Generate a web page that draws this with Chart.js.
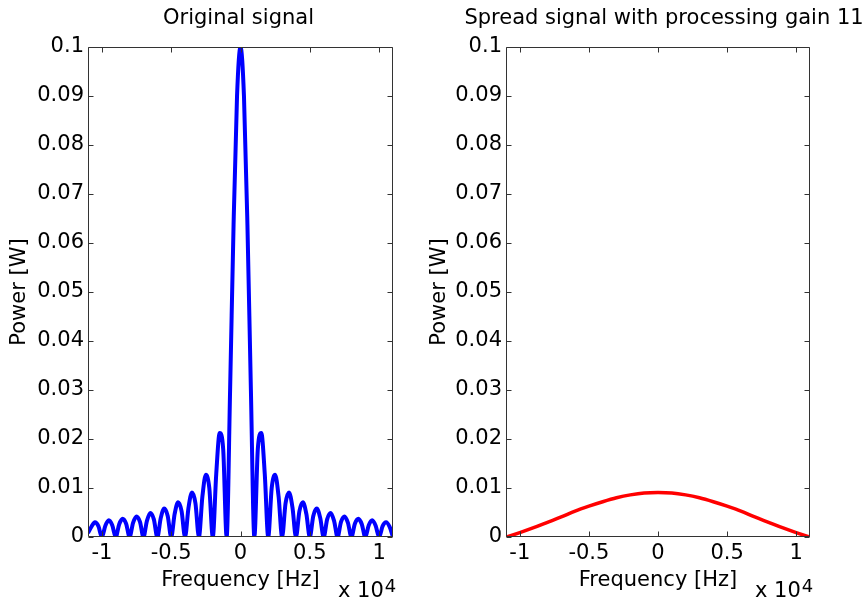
<!DOCTYPE html>
<html>
<head>
<meta charset="utf-8">
<script src="https://cdn.jsdelivr.net/npm/chart.js@4"></script>
<style>
  html, body { margin: 0; padding: 0; background: #fff; }
  body { width: 864px; height: 603px; position: relative; overflow: hidden; }
  canvas { position: absolute; top: 0; }
  #leftChart { left: 0; }
  #rightChart { left: 400px; }
</style>
</head>
<body>
<canvas id="leftChart" width="432" height="603"></canvas>
<canvas id="rightChart" width="464" height="603"></canvas>
<script>
// frequency axis of the original signal, Hz
const freqOrig = [
  -11000, -10750, -10500, -10250, -10000, -9750, -9500, -9250, -9000, -8750, -8500, -8250,
  -8000, -7750, -7500, -7250, -7000, -6750, -6500, -6250, -6000, -5750, -5500, -5250,
  -5000, -4750, -4500, -4250, -4000, -3750, -3500, -3250, -3000, -2750, -2500, -2250,
  -2000, -1750, -1500, -1250, -1000, -750, -500, -250, 0,
  250, 500, 750, 1000, 1250, 1500, 1750, 2000, 2250, 2500, 2750,
  3000, 3250, 3500, 3750, 4000, 4250, 4500, 4750, 5000, 5250, 5500, 5750,
  6000, 6250, 6500, 6750, 7000, 7250, 7500, 7750, 8000, 8250, 8500, 8750,
  9000, 9250, 9500, 9750, 10000, 10250, 10500, 10750, 11000
];
// power of the original signal, W
const powerOrig = [
  0.0008, 0.0021, 0.0030, 0.0022, 0, 0.0023, 0.0034, 0.0024, 0, 0.0026, 0.0037, 0.0027,
  0, 0.0029, 0.0042, 0.0031, 0, 0.0033, 0.0049, 0.0036, 0, 0.0039, 0.0058, 0.0043,
  0, 0.0047, 0.0071, 0.0053, 0, 0.0060, 0.0091, 0.0069, 0, 0.0082, 0.0127, 0.0100,
  0, 0.0129, 0.0212, 0.0180, 0, 0.0300, 0.0637, 0.0900, 0.1000,
  0.0900, 0.0637, 0.0300, 0, 0.0180, 0.0212, 0.0129, 0, 0.0100, 0.0127, 0.0082,
  0, 0.0069, 0.0091, 0.0060, 0, 0.0053, 0.0071, 0.0047, 0, 0.0043, 0.0058, 0.0039,
  0, 0.0036, 0.0049, 0.0033, 0, 0.0031, 0.0042, 0.0029, 0, 0.0027, 0.0037, 0.0026,
  0, 0.0024, 0.0034, 0.0023, 0, 0.0022, 0.0030, 0.0021, 0
];

// spread signal (processing gain 11)
const freqSpread = [
  -11000, -10000, -9000, -8000, -7000, -6000, -5000, -4000, -3000, -2000, -1000, 0,
  1000, 2000, 3000, 4000, 5000, 6000, 7000, 8000, 9000, 10000, 11000
];
const powerSpread = [
  0, 0.0009, 0.0019, 0.0030, 0.0041, 0.0053, 0.0063, 0.0072, 0.0080, 0.0086, 0.0090, 0.0091,
  0.0090, 0.0086, 0.0080, 0.0072, 0.0063, 0.0053, 0.0041, 0.0030, 0.0019, 0.0009, 0
];

const xTicks = [-10000, -5000, 0, 5000, 10000];
const yTicks = [0, 0.01, 0.02, 0.03, 0.04, 0.05, 0.06, 0.07, 0.08, 0.09, 0.1];

const FONT = 'DejaVu Sans';

// matlab-ish box with inward ticks, the axes title and the "x 10^4" exponent
const axesBox = {
  id: 'axesBox',
  afterDraw(chart, args, opts) {
    const { ctx, chartArea: a, scales } = chart;
    const L = Math.round(a.left) + 0.5, R = Math.round(a.right) - 0.5;
    const T = Math.round(a.top) + 0.5, B = Math.round(a.bottom) - 0.5;
    ctx.save();
    ctx.strokeStyle = '#333';
    ctx.lineWidth = 1;
    ctx.beginPath();
    ctx.rect(L, T, R - L, B - T);
    xTicks.forEach(v => {
      const px = Math.round(scales.x.getPixelForValue(v)) + 0.5;
      ctx.moveTo(px, B); ctx.lineTo(px, B - 5);
      ctx.moveTo(px, T); ctx.lineTo(px, T + 5);
    });
    yTicks.forEach(v => {
      const py = Math.round(scales.y.getPixelForValue(v)) + 0.5;
      ctx.moveTo(L, py); ctx.lineTo(L + 5, py);
      ctx.moveTo(R, py); ctx.lineTo(R - 5, py);
    });
    ctx.stroke();

    ctx.fillStyle = '#000';
    // title over the axes (not squeezed to the axes width)
    ctx.font = '21px "' + FONT + '"';
    ctx.textAlign = 'center';
    ctx.textBaseline = 'middle';
    ctx.fillText(opts.title, (a.left + a.right) / 2 + (opts.titleShift || 0), 19);

    ctx.textAlign = 'left';
    ctx.textBaseline = 'alphabetic';
    const x0 = a.right - 55;
    ctx.fillText('x 10', x0, 597);
    const w = ctx.measureText('x 10').width;
    ctx.font = '18px "' + FONT + '"';
    ctx.fillText('4', x0 + w + 1, 592);
    ctx.restore();
  }
};

function makeChart(id, title, titleShift, freqs, power, color, lineW, yAxisWidth, yTitlePad, padRight) {
  return new Chart(document.getElementById(id), {
    type: 'line',
    data: {
      datasets: [{
        data: freqs.map((f, i) => ({ x: f, y: power[i] })),
        borderColor: color,
        borderWidth: lineW,
        pointRadius: 0,
        fill: false,
        cubicInterpolationMode: 'monotone',
        clip: 0
      }]
    },
    options: {
      responsive: false,
      animation: false,
      layout: { padding: { left: 0, top: 47, right: padRight, bottom: 0 } },
      plugins: {
        legend: { display: false },
        tooltip: { enabled: false },
        title: { display: false },
        axesBox: { title: title, titleShift: titleShift }
      },
      scales: {
        x: {
          type: 'linear',
          min: -11000,
          max: 11000,
          grid: { display: false, drawTicks: false },
          border: { display: false },
          afterBuildTicks: s => { s.ticks = xTicks.map(v => ({ value: v })); },
          afterFit: s => { s.height = 66; },
          ticks: {
            color: '#000',
            padding: 4,
            autoSkip: false,
            maxRotation: 0,
            font: { family: FONT, size: 21 },
            callback: v => String(v / 10000)
          },
          title: {
            display: true,
            text: 'Frequency [Hz]',
            color: '#000',
            font: { family: FONT, size: 21 },
            padding: { top: 0, bottom: 9.4 }
          }
        },
        y: {
          min: 0,
          max: 0.1,
          grid: { display: false, drawTicks: false },
          border: { display: false },
          afterBuildTicks: s => { s.ticks = yTicks.map(v => ({ value: v })); },
          afterFit: s => { s.width = yAxisWidth; },
          ticks: {
            color: '#000',
            padding: 4,
            autoSkip: false,
            font: { family: FONT, size: 21 },
            callback: v => String(v)
          },
          title: {
            display: true,
            text: 'Power [W]',
            color: '#000',
            font: { family: FONT, size: 21 },
            padding: { top: yTitlePad, bottom: 0 }
          }
        }
      }
    },
    plugins: [axesBox]
  });
}

makeChart('leftChart', 'Original signal', -2, freqOrig, powerOrig, '#0000ff', 4, 88, 7.4, 39);
makeChart('rightChart', 'Spread signal with processing gain 11', 6, freqSpread, powerSpread, '#ff0000', 3.5, 106, 26.9, 54);
</script>
</body>
</html>
